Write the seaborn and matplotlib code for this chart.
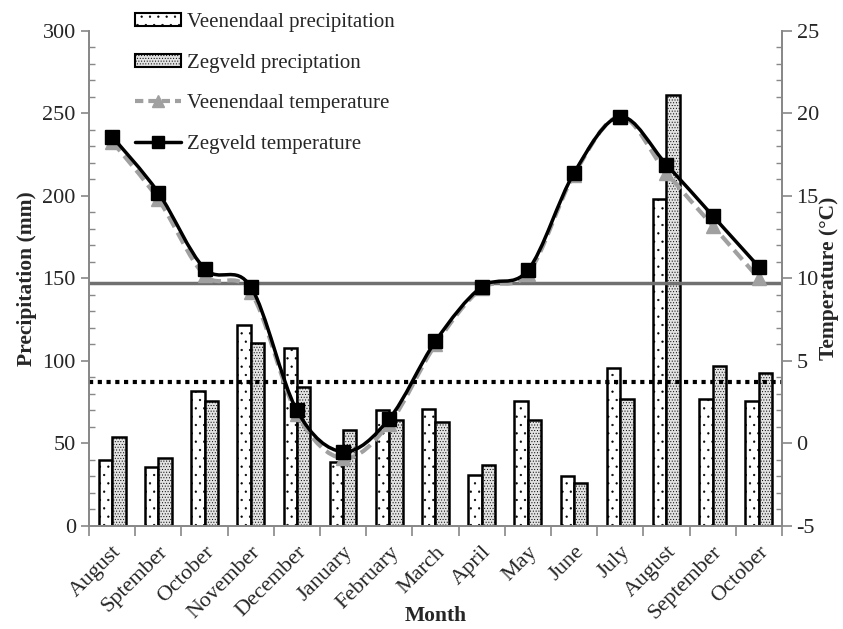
import numpy as np
import pandas as pd
import seaborn as sns
import matplotlib.pyplot as plt
from matplotlib.path import Path
from matplotlib.patches import PathPatch, Patch
from matplotlib.lines import Line2D
from matplotlib.ticker import MultipleLocator

# ---- data ----
months = ["August", "Sptember", "October", "November", "December", "January",
          "February", "March", "April", "May", "June", "July", "August",
          "September", "October"]
veen_precip = [40, 36, 82, 122, 108, 39, 70, 71, 31, 76, 30, 96, 198, 77, 76]
zeg_precip = [54, 41, 76, 111, 84, 58, 64, 63, 37, 64, 26, 77, 261, 97, 93]
veen_temp = [18.3, 14.8, 10.2, 9.2, 1.8, -0.9, 1.2, 6.0, 9.4, 10.3, 16.3, 19.8, 16.4, 13.2, 10.0]
zeg_temp = [18.6, 15.2, 10.6, 9.5, 2.0, -0.5, 1.5, 6.2, 9.5, 10.5, 16.4, 19.8, 16.9, 13.8, 10.7]
mean_temp = 9.7
mean_precip = 87

sns.set_style("white")
plt.rcParams["font.family"] = ["Liberation Serif", "DejaVu Sans"]
plt.rcParams["hatch.linewidth"] = 0.4
plt.rcParams["axes.unicode_minus"] = False

pos = np.arange(len(months))
df = pd.DataFrame({
    "pos": np.concatenate([pos, pos]),
    "precip": veen_precip + zeg_precip,
    "station": ["Veenendaal"] * len(pos) + ["Zegveld"] * len(pos),
})

fig = plt.figure(figsize=(8.43, 6.29), dpi=100)
ax = fig.add_axes([0.1056, 0.1638, 0.822, 0.787])

sns.barplot(data=df, x="pos", y="precip", hue="station",
            hue_order=["Veenendaal", "Zegveld"], palette=["white", "#e2e2e2"],
            width=0.58, edgecolor="black", linewidth=1.8, saturation=1,
            legend=False, ax=ax)
for bar in ax.containers[0]:
    bar.set_hatch("..")
for bar in ax.containers[1]:
    bar.set_hatch("......")

ax.axhline(mean_precip, color="black", lw=3, ls=(0, (1, 1.1)), zorder=5)

ax.set_ylim(0, 300)
ax.set_xlim(-0.5, len(months) - 0.5)
ax.yaxis.set_major_locator(MultipleLocator(50))
ax.yaxis.set_minor_locator(MultipleLocator(10))
ax.set_xticks(pos)
ax.set_xticklabels(months, rotation=45, ha="right", rotation_mode="anchor",
                   fontsize=16)
ax.set_xticks(np.arange(-0.5, len(months), 1), minor=True)
ax.tick_params(axis="x", which="major", length=0, pad=12)
ax.tick_params(axis="x", which="minor", length=7, direction="out",
               color="#888888", width=1.2, bottom=True)
ax.tick_params(axis="y", which="major", length=6, direction="out",
               color="#888888", width=1.2, labelsize=16, left=True)
ax.tick_params(axis="y", which="minor", length=4, direction="in",
               color="#888888", width=1.0, left=True)
ax.set_xlabel("Month", fontsize=15.5, fontweight="bold")
ax.xaxis.set_label_coords(0.5, -0.162)
ax.set_ylabel("Precipitation (mm)", fontsize=15.5, fontweight="bold", labelpad=4)
for s in ["left", "right", "bottom"]:
    ax.spines[s].set_color("#888888")
    ax.spines[s].set_linewidth(1.3)
ax.spines["top"].set_visible(False)

ax2 = ax.twinx()
ax2.set_ylim(-5, 25)
ax2.yaxis.set_major_locator(MultipleLocator(5))
ax2.yaxis.set_minor_locator(MultipleLocator(1))
ax2.tick_params(axis="y", which="major", length=7, direction="out",
                color="#888888", width=1.2, labelsize=16, right=True)
ax2.tick_params(axis="y", which="minor", length=4, direction="in",
                color="#888888", width=1.0, right=True)
ax2.set_ylabel("Temperature (°C)", fontsize=15.5, fontweight="bold", labelpad=0)
for s in ["left", "right", "bottom"]:
    ax2.spines[s].set_color("#888888")
    ax2.spines[s].set_linewidth(1.3)
ax2.spines["top"].set_visible(False)

ax2.axhline(mean_temp, color="#707070", lw=2.5, zorder=2)


def smooth_path(x, y):
    # Bezier segments through the data points (Excel-style smoothed line)
    n = len(x)
    verts = [(x[0], y[0])]
    codes = [Path.MOVETO]
    for i in range(n - 1):
        xp, yp = (x[i - 1], y[i - 1]) if i > 0 else (x[i], y[i])
        xn, yn = (x[i + 2], y[i + 2]) if i + 2 < n else (x[i + 1], y[i + 1])
        verts.append((x[i] + (x[i + 1] - xp) / 6, y[i] + (y[i + 1] - yp) / 6))
        verts.append((x[i + 1] - (xn - x[i]) / 6, y[i + 1] - (yn - y[i]) / 6))
        verts.append((x[i + 1], y[i + 1]))
        codes += [Path.CURVE4] * 3
    return Path(verts, codes)


ax2.add_patch(PathPatch(smooth_path(pos, veen_temp), fill=False,
                        edgecolor="#a0a0a0", lw=3, ls=(0, (3, 1.5)), zorder=3))
ax2.plot(pos, veen_temp, ls="none", marker="^", ms=10, color="#a0a0a0", zorder=4)
ax2.add_patch(PathPatch(smooth_path(pos, zeg_temp), fill=False,
                        edgecolor="black", lw=2.5, zorder=5))
ax2.plot(pos, zeg_temp, ls="none", marker="s", ms=10, color="black", zorder=6)

handles = [
    Patch(facecolor="white", edgecolor="black", hatch="..", lw=1.5),
    Patch(facecolor="#e2e2e2", edgecolor="black", hatch="......", lw=1.5),
    Line2D([], [], color="#a0a0a0", lw=3, ls=(0, (2, 1.2)), marker="^", ms=9),
    Line2D([], [], color="black", lw=2.5, marker="s", ms=9),
]
labels = ["Veenendaal precipitation", "Zegveld preciptation",
          "Veenendaal temperature", "Zegveld temperature"]
fig.legend(handles, labels, loc="upper left", bbox_to_anchor=(0.143, 1.003),
           frameon=False, fontsize=15, handlelength=2.2, handleheight=0.6,
           handletextpad=0.3, labelspacing=1.05, borderpad=0.2)

fig.savefig("out.png", dpi=100)
